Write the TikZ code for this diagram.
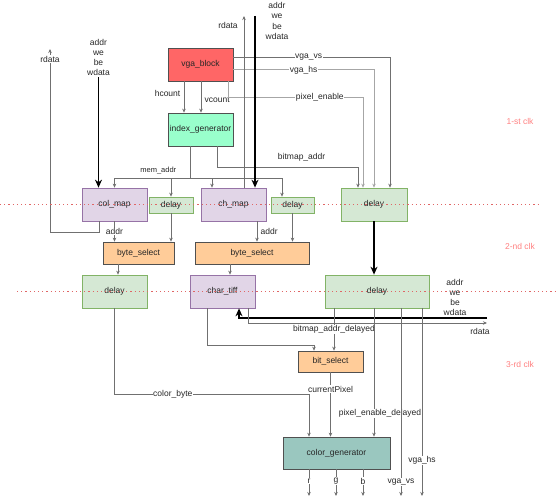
\documentclass[tikz,border=0pt]{standalone}
\usepackage{fontspec}
\setmainfont{Liberation Sans}
\usetikzlibrary{arrows.meta}
\definecolor{vgared}{HTML}{FF6666}
\definecolor{idxgreen}{HTML}{99FFCC}
\definecolor{mapfill}{HTML}{E1D5E7}
\definecolor{mapline}{HTML}{9673A6}
\definecolor{dlyfill}{HTML}{D5E8D4}
\definecolor{dlyline}{HTML}{82B366}
\definecolor{selfill}{HTML}{FFCC99}
\definecolor{genfill}{HTML}{9AC7BF}
\definecolor{boxline}{HTML}{505050}
\definecolor{wiregray}{HTML}{707070}
\definecolor{clkred}{HTML}{FF8080}
\definecolor{dotred}{HTML}{E06666}
\begin{document}
\begin{tikzpicture}[x=1pt,y=-1pt,font=\fontsize{8.5}{10.3}\selectfont,text=black!85,
	boxstyle/.style={draw=boxline,line width=0.7pt,inner sep=0pt,minimum width=65pt,minimum height=33pt},
	mapstyle/.style={boxstyle,fill=mapfill,draw=mapline},
	dlystyle/.style={boxstyle,fill=dlyfill,draw=dlyline},
	selstyle/.style={boxstyle,fill=selfill,minimum height=22pt},
	wirestyle/.style={draw=wiregray,line width=0.7pt,-{Stealth[length=4pt,width=3.5pt]}},
	lightwire/.style={wirestyle,draw=black!35,line width=1pt},
	busstyle/.style={draw=black,line width=1.6pt,-{Stealth[length=8pt,width=7pt]}},
	lblstyle/.style={fill=white,inner sep=0.5pt},
	clkstyle/.style={text=clkred},
	dotstyle/.style={draw=dotred,line width=0.8pt,dash pattern=on 1.2pt off 3pt}]
\useasboundingbox (0,0) rectangle (560,503);
\node[boxstyle,fill=vgared] (vga) at (200.5,64.5) {vga\_block};
\node[boxstyle,fill=idxgreen] (idx) at (200.5,129.5) {index\_generator};
\node[mapstyle] (colmap) at (114.5,204.5) {col\_map};
\node[dlystyle,minimum width=44pt,minimum height=16pt] (dlya) at (171,205) {delay};
\node[mapstyle] (chmap) at (233.5,204.5) {ch\_map};
\node[dlystyle,minimum width=43pt,minimum height=16pt] (dlyb) at (292.5,205) {delay};
\node[dlystyle,minimum width=66pt] (dlyc) at (374,204.5) {delay};
\node[selstyle,minimum width=71pt] (bsela) at (138.5,253) {byte\_select};
\node[selstyle,minimum width=114pt] (bselb) at (252,253) {byte\_select};
\node[dlystyle] (dlyd) at (114.5,291.5) {delay};
\node[mapstyle] (chtiff) at (222.5,291.5) {char\_tiff};
\node[dlystyle,minimum width=104pt] (dlye) at (377,291.5) {delay};
\node[selstyle,minimum height=21pt] (bitsel) at (330.5,361.5) {bit\_select};
\node[boxstyle,fill=genfill,minimum width=107pt,minimum height=32pt] (cgen) at (336.5,453) {color\_generator};
\node[align=center,inner sep=1pt] (exta) at (98.5,57.5) {addr\\we\\be\\wdata};
\node[align=center,inner sep=1pt] (extb) at (277,21) {addr\\we\\be\\wdata};
\node[align=center,inner sep=1pt] (extc) at (455,297.5) {addr\\we\\be\\wdata};
\coordinate (busb) at (255,16);
\coordinate (busc) at (487,318);
\coordinate (rdtipa) at (50,49);
\coordinate (rdtipb) at (244,16);
\coordinate (rdtipc) at (487,323);
\coordinate (membus) at (190,178);
\coordinate (vsout) at (401,496);
\coordinate (hsout) at (422,496);
\coordinate (rout) at (309,496);
\coordinate (gout) at (336,496);
\coordinate (bout) at (363,496);

\draw[wirestyle] ([xshift=-16.5pt]vga.south) -- node[left,pos=0.4]{hcount} ([xshift=-16.5pt]idx.north);
\draw[wirestyle] ([xshift=0.5pt]vga.south) -- node[right,pos=0.6]{vcount} ([xshift=0.5pt]idx.north);
\draw[wirestyle] ([yshift=7.5pt]vga.east) -| node[lblstyle,pos=0.24]{vga\_vs} ([xshift=16pt]dlyc.north);
\draw[lightwire] ([yshift=-5.5pt]vga.east) -| node[lblstyle,pos=0.25]{vga\_hs} (dlyc.north);
\draw[lightwire] ([xshift=27.5pt]vga.south) -- ++(0,16) -| node[lblstyle,pos=0.34]{pixel\_enable} ([xshift=-11pt]dlyc.north);
\draw[wirestyle] ([xshift=16.5pt]idx.south) -- ++(0,21) -| node[above=2pt,pos=0.3]{bitmap\_addr} ([xshift=-16pt]dlyc.north);
\draw[wirestyle,-] ([xshift=-10.5pt]idx.south) -- (membus);
\draw[wirestyle] (membus) -| node[above,pos=0.21,font=\fontsize{7.5}{9}\selectfont]{mem\_addr} (colmap.north);
\draw[wirestyle] (membus) -| (dlya.north);
\draw[wirestyle] (membus) -| ([xshift=-21.5pt]chmap.north);
\draw[wirestyle] (membus) -| ([xshift=-10.5pt]dlyb.north);
\draw[busstyle] (exta.south) -- (exta.south |- colmap.north);
\draw[wirestyle] ([xshift=-15.5pt]colmap.south) -- ++(0,11) -| (rdtipa);
\node[lblstyle] (rda) at (50,59) {rdata};
\draw[wirestyle] ([xshift=10.5pt]chmap.north) -- (rdtipb);
\node (rdb) at (228,25) {rdata};
\draw[busstyle] (busb) -- ([xshift=21.5pt]chmap.north);

\draw[wirestyle] (colmap.south) -- node[lblstyle]{addr} (colmap.south |- bsela.north);
\draw[wirestyle] (dlya.south) -- (dlya.south |- bsela.north);
\draw[wirestyle] ([xshift=23.5pt]chmap.south) -- node[right]{addr} ([xshift=23.5pt]chmap.south |- bselb.north);
\draw[wirestyle] (dlyb.south) -- (dlyb.south |- bselb.north);
\draw[busstyle] (dlyc.south) -- (dlyc.south |- dlye.north);

\draw[wirestyle] ([xshift=-20.5pt]bsela.south) -- ([xshift=-20.5pt]bsela.south |- dlyd.north);
\draw[wirestyle] ([xshift=-22pt]bselb.south) -- ([xshift=-22pt]bselb.south |- chtiff.north);
\draw[busstyle] (busc) -| ([xshift=16.5pt]chtiff.south);
\draw[wirestyle] ([xshift=25.5pt]chtiff.south) |- (rdtipc);
\node (rdc) at (480,331) {rdata};
\draw[wirestyle] ([xshift=-43pt]dlye.south) -- node[lblstyle]{bitmap\_addr\_delayed} ([xshift=-43pt]dlye.south |- bitsel.north);
\draw[wirestyle] ([xshift=-15.5pt]chtiff.south) -- ++(0,37) -| ([xshift=-16.5pt]bitsel.north);
\draw[wirestyle] (bitsel.south) -- node[lblstyle,pos=0.26]{currentPixel} (bitsel.south |- cgen.north);
\draw[wirestyle] ([xshift=-3pt]dlye.south) -- node[lblstyle,pos=0.82,xshift=6pt]{pixel\_enable\_delayed} ([xshift=-3pt]dlye.south |- cgen.north);
\draw[wirestyle] (dlyd.south) -- ++(0,86) -| node[lblstyle,pos=0.15]{color\_byte} ([xshift=-27.5pt]cgen.north);
\draw[wirestyle] ([xshift=24pt]dlye.south) -- node[lblstyle,pos=0.925]{vga\_vs} (vsout);
\draw[wirestyle] ([xshift=45pt]dlye.south) -- node[lblstyle,pos=0.81]{vga\_hs} (hsout);
\draw[wirestyle] ([xshift=-27.5pt]cgen.south) -- node[lblstyle,pos=0.44]{r} (rout);
\draw[wirestyle] ([xshift=-0.5pt]cgen.south) -- node[lblstyle,pos=0.44]{g} (gout);
\draw[wirestyle] ([xshift=26.5pt]cgen.south) -- node[lblstyle,pos=0.44]{b} (bout);

\draw[dotstyle] (0,204.5) -- (540,204.5);
\draw[dotstyle] (17,291.5) -- (556,291.5);
\node[clkstyle] (clka) at (520,121) {1-st clk};
\node[clkstyle] (clkb) at (520,246) {2-nd clk};
\node[clkstyle] (clkc) at (520,364) {3-rd clk};
\end{tikzpicture}
\end{document}
